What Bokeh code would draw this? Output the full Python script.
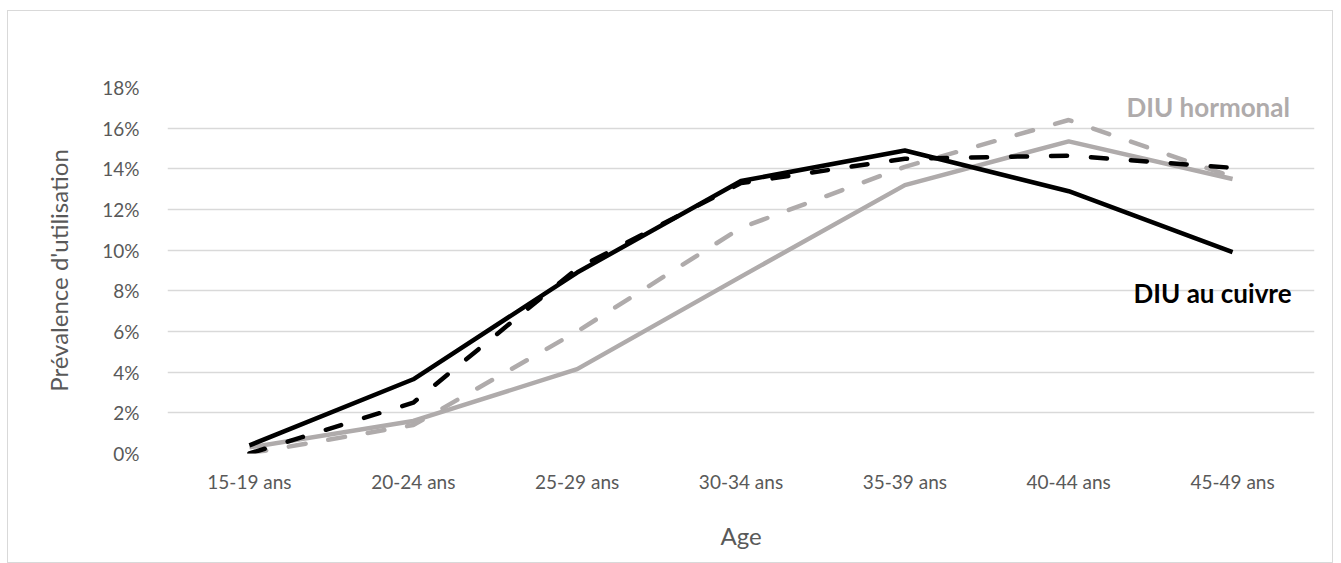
from bokeh.plotting import figure
from bokeh.models import FactorRange, Range1d, FixedTicker, PrintfTickFormatter, Label
from bokeh.embed import file_html
from bokeh.resources import INLINE

ages = ["15-19 ans", "20-24 ans", "25-29 ans", "30-34 ans", "35-39 ans", "40-44 ans", "45-49 ans"]
cuivre_solid = [0.4, 3.65, 8.9, 13.4, 14.9, 12.9, 9.9]
cuivre_dash = [0.0, 2.5, 9.1, 13.3, 14.5, 14.65, 14.05]
hormonal_solid = [0.3, 1.6, 4.15, 8.7, 13.2, 15.35, 13.5]
hormonal_dash = [0.0, 1.4, 6.0, 11.1, 14.1, 16.4, 13.6]
y_ticks = [0, 2, 4, 6, 8, 10, 12, 14, 16, 18]

FONT = "Lato"
GRAY = "#AFABAB"
TXT = "#595959"

p = figure(x_range=FactorRange(*ages, range_padding=0), y_range=Range1d(0, 18),
           width=1326, height=553, output_backend="svg", toolbar_location=None,
           min_border_left=159, min_border_right=20, min_border_top=76, min_border_bottom=111)
p.margin = (10, 0, 0, 7)
p.styles = {"border": "1.5px solid #d9d9d9"}
p.outline_line_color = None
p.background_fill_color = "white"
p.border_fill_color = "white"

p.line(ages, hormonal_solid, line_color=GRAY, line_width=4.5)
p.line(ages, hormonal_dash, line_color=GRAY, line_width=4.5, line_dash="17 23", line_cap="round")
p.line(ages, cuivre_dash, line_color="black", line_width=4.5, line_dash="16 24", line_cap="round")
p.line(ages, cuivre_solid, line_color="black", line_width=4.5)

p.yaxis.ticker = FixedTicker(ticks=y_ticks)
p.yaxis.formatter = PrintfTickFormatter(format="%d%%")
p.ygrid.ticker = FixedTicker(ticks=y_ticks)
p.ygrid.grid_line_color = "#D9D9D9"
p.ygrid.grid_line_width = 1.5
p.xgrid.grid_line_color = None

for ax in (p.xaxis, p.yaxis):
    ax.axis_line_color = None
    ax.major_tick_line_color = None
    ax.minor_tick_line_color = None
    ax.major_label_text_font = FONT
    ax.major_label_text_font_size = "19px"
    ax.major_label_text_color = TXT
    ax.axis_label_text_font = FONT
    ax.axis_label_text_font_size = "24px"
    ax.axis_label_text_color = TXT
    ax.axis_label_text_font_style = "normal"

p.yaxis.axis_label = "Prévalence d'utilisation"
p.yaxis.major_label_standoff = 22
p.yaxis.axis_label_standoff = 26
p.xaxis.axis_label = "Age"
p.xaxis.major_label_standoff = 10
p.xaxis.axis_label_standoff = 25

p.add_layout(Label(x=6.85, y=17.06, text="DIU hormonal", text_align="right", text_baseline="middle",
                   text_font=FONT, text_font_size="26px", text_font_style="bold", text_color=GRAY))
p.add_layout(Label(x=6.86, y=7.9, text="DIU au cuivre", text_align="right", text_baseline="middle",
                   text_font=FONT, text_font_size="26px", text_font_style="bold", text_color="black"))

open("out.html", "w").write(file_html(p, INLINE))
